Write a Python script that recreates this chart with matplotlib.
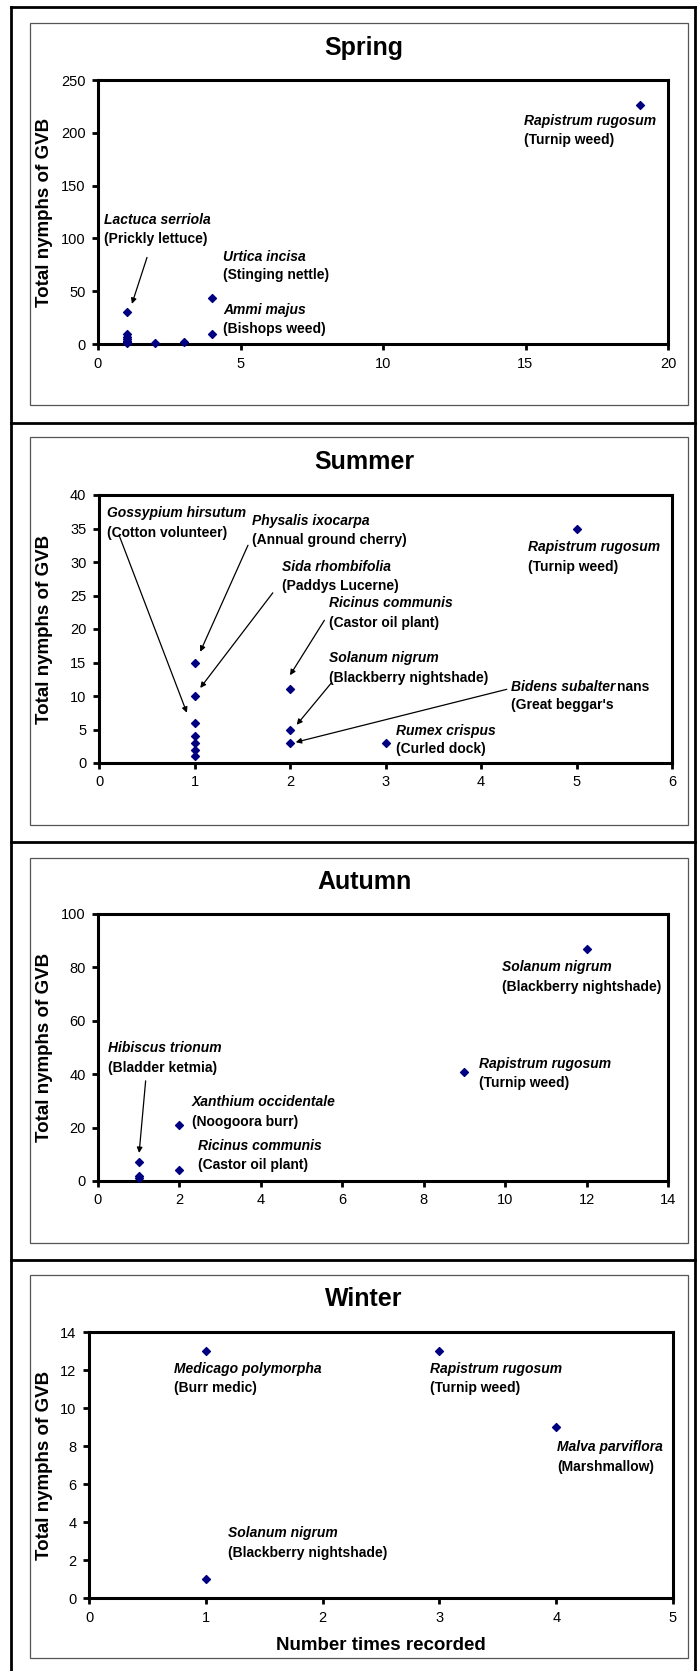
import matplotlib
matplotlib.use("Agg")
import matplotlib.pyplot as plt
from matplotlib.lines import Line2D
from matplotlib.patches import Rectangle

plt.rcParams['font.family'] = ['Liberation Sans', 'DejaVu Sans']

W, H = 697, 1671

# ---------------- data ----------------
seasons = ["Spring", "Summer", "Autumn", "Winter"]

spring_x = [1, 1, 1, 1, 1, 1, 1, 2, 3, 4, 4, 19]
spring_y = [30, 9, 7, 5, 3, 2, 1, 1, 2, 44, 9, 226]

summer_x = [1, 1, 1, 1, 1, 1, 1, 2, 2, 2, 3, 5]
summer_y = [15, 10, 6, 4, 3, 2, 1, 11, 5, 3, 3, 35]

autumn_x = [1, 1, 1, 2, 2, 9, 12]
autumn_y = [7, 2, 1, 21, 4, 41, 87]

winter_x = [1, 1, 3, 4]
winter_y = [13, 1, 13, 9]

spring_xticks = [0, 5, 10, 15, 20]
spring_yticks = [0, 50, 100, 150, 200, 250]
summer_xticks = [0, 1, 2, 3, 4, 5, 6]
summer_yticks = [0, 5, 10, 15, 20, 25, 30, 35, 40]
autumn_xticks = [0, 2, 4, 6, 8, 10, 12, 14]
autumn_yticks = [0, 20, 40, 60, 80, 100]
winter_xticks = [0, 1, 2, 3, 4, 5]
winter_yticks = [0, 2, 4, 6, 8, 10, 12, 14]

# labels: (species, common name, text x, line1 y, line2 y)
spring_labels = [
    ("Rapistrum rugosum", "(Turnip weed)", 14.95, 211, 193),
    ("Lactuca serriola", "(Prickly lettuce)", 0.2, 117, 99),
    ("Urtica incisa", "(Stinging nettle)", 4.4, 82, 65),
    ("Ammi majus", "(Bishops weed)", 4.4, 32, 14),
]
spring_arrows = [((1.72, 82), (1.19, 38))]

summer_labels = [
    ("Gossypium hirsutum", "(Cotton volunteer)", 0.08, 37.3, 34.3),
    ("Physalis ixocarpa", "(Annual ground cherry)", 1.6, 36.1, 33.3),
    ("Sida rhombifolia", "(Paddys Lucerne)", 1.92, 29.3, 26.4),
    ("Ricinus communis", "(Castor oil plant)", 2.41, 23.9, 20.9),
    ("Solanum nigrum", "(Blackberry nightshade)", 2.41, 15.7, 12.7),
    ("Rumex crispus", "(Curled dock)", 3.11, 4.8, 2.1),
    ("Rapistrum rugosum", "(Turnip weed)", 4.49, 32.2, 29.3),
]
summer_bidens = ("Bidens subalter", "nans", "(Great beggar's", 4.31, 11.3, 8.6)
summer_arrows = [
    ((0.21, 34.0), (0.92, 7.5)),
    ((1.56, 32.5), (1.06, 16.6)),
    ((1.82, 25.4), (1.06, 11.2)),
    ((2.36, 21.3), (2.0, 13.1)),
    ((2.43, 11.9), (2.07, 5.7)),
    ((4.27, 11.0), (2.06, 3.1)),
]

autumn_labels = [
    ("Solanum nigrum", "(Blackberry nightshade)", 9.93, 80.1, 72.7),
    ("Rapistrum rugosum", "(Turnip weed)", 9.36, 43.8, 36.7),
    ("Hibiscus trionum", "(Bladder ketmia)", 0.24, 49.8, 42.3),
    ("Xanthium occidentale", "(Noogoora burr)", 2.31, 29.6, 22.1),
    ("Ricinus communis", "(Castor oil plant)", 2.45, 13.1, 6.0),
]
autumn_arrows = [((1.17, 37.5), (1.01, 10.5))]

winter_labels = [
    ("Medicago polymorpha", "(Burr medic)", 0.73, 12.05, 11.05),
    ("Rapistrum rugosum", "(Turnip weed)", 2.92, 12.05, 11.05),
    ("Malva parviflora", "(Marshmallow)", 4.01, 7.95, 6.9),
    ("Solanum nigrum", "(Blackberry nightshade)", 1.19, 3.42, 2.37),
]

# ---------------- layout (pixels) ----------------
plot_boxes = [(98, 80, 668, 344), (99, 495, 672, 763), (98, 914, 668, 1181), (89, 1332, 673, 1598)]
inner_boxes = [(30, 23, 688, 405), (30, 437, 688, 825), (30, 858, 688, 1243), (30, 1275, 688, 1658)]
title_y = [48, 462, 882, 1299]
separators = [7, 423, 842, 1260]

fig = plt.figure(figsize=(W / 100, H / 100), dpi=100)
fig.patch.set_facecolor("white")


def fx(x):
    return x / W


def fy(y):
    return 1 - y / H


# outer frame and separators
for y in separators:
    fig.add_artist(Line2D([fx(11), fx(695)], [fy(y), fy(y)], color="black", lw=2.0))
fig.add_artist(Line2D([fx(11), fx(11)], [fy(7), fy(1671)], color="black", lw=2.0))
fig.add_artist(Line2D([fx(695), fx(695)], [fy(7), fy(1671)], color="black", lw=2.0))

for (x0, y0, x1, y1) in inner_boxes:
    fig.add_artist(Rectangle((fx(x0), fy(y1)), fx(x1) - fx(x0), fy(y0) - fy(y1),
                             fill=False, edgecolor="#555555", lw=0.9, transform=fig.transFigure))

data = [
    (spring_x, spring_y, spring_xticks, spring_yticks, spring_labels, spring_arrows),
    (summer_x, summer_y, summer_xticks, summer_yticks, summer_labels, summer_arrows),
    (autumn_x, autumn_y, autumn_xticks, autumn_yticks, autumn_labels, autumn_arrows),
    (winter_x, winter_y, winter_xticks, winter_yticks, winter_labels, []),
]

LBL = 10
for i, (xs, ys, xt, yt, labels, arrows) in enumerate(data):
    x0, y0, x1, y1 = plot_boxes[i]
    ax = fig.add_axes([fx(x0), fy(y1), fx(x1) - fx(x0), fy(y0) - fy(y1)])
    ax.scatter(xs, ys, marker="D", s=16, color="#000080", zorder=3, clip_on=False)
    ax.set_xlim(xt[0], xt[-1])
    ax.set_ylim(yt[0], yt[-1])
    ax.set_xticks(xt)
    ax.set_yticks(yt)
    ax.tick_params(direction="out", length=4, width=2, labelsize=10.5, pad=5, colors="black")
    for sp in ax.spines.values():
        sp.set_linewidth(2.2)
        sp.set_color("black")
    ax.set_ylabel("Total nymphs of GVB", fontsize=13.5, fontweight="bold")
    ax.yaxis.label.set_va("center")
    ax.yaxis.set_label_coords((45 - x0) / (x1 - x0), 0.5)
    for sp_name, common, tx, ty1, ty2 in labels:
        ax.text(tx, ty1, sp_name, fontsize=LBL, fontweight="bold", fontstyle="italic",
                ha="left", va="center")
        ax.text(tx, ty2, common, fontsize=LBL, fontweight="bold", ha="left", va="center")
    for (s, e) in arrows:
        ax.annotate("", xy=e, xytext=s,
                    arrowprops=dict(arrowstyle="-|>", color="black", lw=0.9,
                                    mutation_scale=8, shrinkA=0, shrinkB=0))
    if i == 1:
        a, b, c, tx, ty1, ty2 = summer_bidens
        t1 = ax.text(tx, ty1, a, fontsize=LBL, fontweight="bold", fontstyle="italic",
                     ha="left", va="center")
        ax.annotate(b, xy=(1, 0.5), xycoords=t1, xytext=(1.5, 0), textcoords="offset points",
                    fontsize=LBL, fontweight="bold", ha="left", va="center")
        ax.text(tx, ty2, c, fontsize=LBL, fontweight="bold", ha="left", va="center")
    if i == 3:
        ax.set_xlabel("Number times recorded", fontsize=13.5, fontweight="bold")
        ax.xaxis.label.set_va("center")
        ax.xaxis.set_label_coords(0.5, -(1645 - y1) / (y1 - y0))
    fig.text(fx(364), fy(title_y[i]), seasons[i], fontsize=18, fontweight="bold",
             ha="center", va="center")

fig.savefig("out.png", dpi=100, facecolor="white")
